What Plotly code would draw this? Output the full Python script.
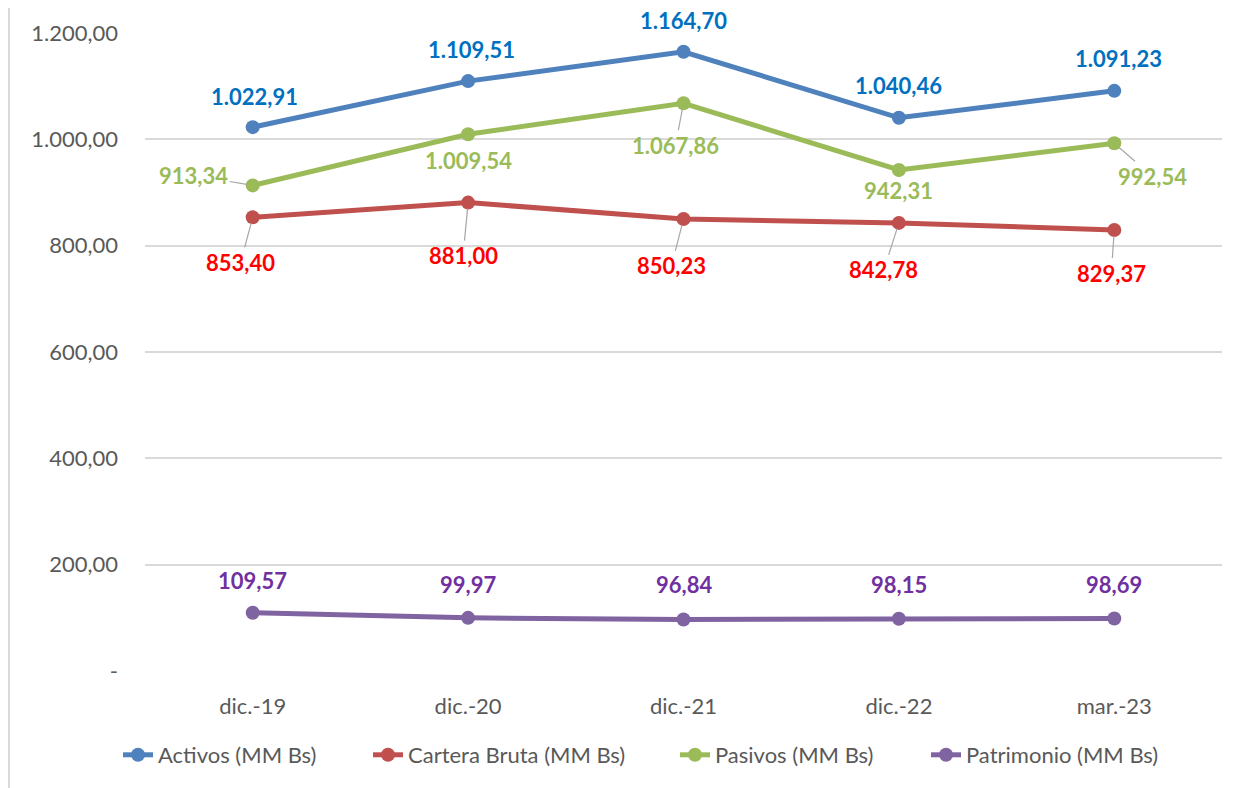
import plotly.graph_objects as go

categories = ["dic.-19", "dic.-20", "dic.-21", "dic.-22", "mar.-23"]
activos = [1022.91, 1109.51, 1164.70, 1040.46, 1091.23]
cartera = [853.40, 881.00, 850.23, 842.78, 829.37]
pasivos = [913.34, 1009.54, 1067.86, 942.31, 992.54]
patrimonio = [109.57, 99.97, 96.84, 98.15, 98.69]

y_tickvals = [0, 200, 400, 600, 800, 1000, 1200]
y_ticktext = ["-", "200,00", "400,00", "600,00", "800,00", "1.000,00", "1.200,00"]

series = [
    ("Activos (MM Bs)", activos, "#4F81BD", "#0070C0"),
    ("Cartera Bruta (MM Bs)", cartera, "#C0504D", "#FF0000"),
    ("Pasivos (MM Bs)", pasivos, "#9BBB59", "#9BBB59"),
    ("Patrimonio (MM Bs)", patrimonio, "#8064A2", "#7030A0"),
]

# label placement offsets (pixels): (dx, dy_down, leader)
placements = {
    "Activos (MM Bs)": [(2, -31, False), (3, -32, False), (0, -31, False), (0, -32, False), (4, -32, False)],
    "Cartera Bruta (MM Bs)": [(-12, 45, True), (-5, 53, True), (-12, 47, True), (-15, 47, True), (-3, 43, True)],
    "Pasivos (MM Bs)": [(-59, -10, True), (0, 26, False), (-8, 42, True), (0, 20, False), (38, 33, True)],
    "Patrimonio (MM Bs)": [(0, -32, False), (0, -33, False), (0, -35, False), (0, -34, False), (0, -34, False)],
}

# legend text start (figure px)
legend_text_x = [152, 402, 709, 960]


def fmt(v):
    s = f"{v:,.2f}"
    return s.replace(",", "X").replace(".", ",").replace("X", ".")


FONT = "Lato, Calibri, 'Open Sans', sans-serif"
FS = 22

# the page body adds an 8px offset, so the figure is 8px smaller than the window
W, H = 1236, 780
L, R, T, B = 137, 22, 25, 117
pw, ph = W - L - R, H - T - B

fig = go.Figure()
annotations = []
legends = {}
for k, (name, vals, lc, tc) in enumerate(series):
    lg = "legend" if k == 0 else f"legend{k + 1}"
    fig.add_trace(go.Scatter(
        x=categories, y=vals, name=name, mode="lines+markers",
        line=dict(color=lc, width=5),
        marker=dict(color=lc, size=14),
        cliponaxis=False, legend=lg,
    ))
    legends[lg] = dict(
        orientation="h", x=(legend_text_x[k] - 42 - L) / pw, xanchor="left",
        y=-(747 - (H - B)) / ph, yanchor="middle",
        font=dict(family=FONT, size=FS, color="#595959"),
        bgcolor="rgba(0,0,0,0)",
    )
    for i, v in enumerate(vals):
        dx, dy, leader = placements[name][i]
        if leader:
            annotations.append(dict(
                x=categories[i], y=v, xref="x", yref="y", text=fmt(v),
                showarrow=True, arrowhead=0, arrowwidth=1.2, arrowcolor="#A6A6A6",
                ax=dx, ay=dy, standoff=6,
                font=dict(family=FONT, size=FS, color=tc, weight="bold"),
            ))
        else:
            annotations.append(dict(
                x=categories[i], y=v, xref="x", yref="y", text=fmt(v),
                showarrow=False, xshift=dx, yshift=-dy,
                font=dict(family=FONT, size=FS, color=tc, weight="bold"),
            ))

fig.update_layout(
    width=W, height=H,
    margin=dict(l=L, r=R, t=T, b=B, autoexpand=False),
    paper_bgcolor="white", plot_bgcolor="white",
    font=dict(family=FONT, size=FS, color="#595959"),
    showlegend=True,
    annotations=annotations,
    xaxis=dict(type="category", range=[-0.5, 4.5], showgrid=False, zeroline=False,
               showline=False, ticks="", ticklabelstandoff=20, automargin=False,
               tickfont=dict(family=FONT, size=FS, color="#595959")),
    yaxis=dict(range=[0, 1200], tickvals=y_tickvals, ticktext=y_ticktext,
               showgrid=True, gridcolor="#D9D9D9", gridwidth=1.5, zeroline=False,
               showline=False, ticks="", ticklabelstandoff=26, automargin=False,
               tickfont=dict(family=FONT, size=FS, color="#595959")),
    shapes=[dict(type="line", xref="paper", yref="paper",
                 x0=(1 - L) / pw, x1=(1 - L) / pw,
                 y0=-(H - T - ph) / ph - 0.1, y1=(ph + T) / ph,
                 line=dict(color="#D9D9D9", width=2), layer="below")],
    **legends,
)

fig.write_html("out.html")
